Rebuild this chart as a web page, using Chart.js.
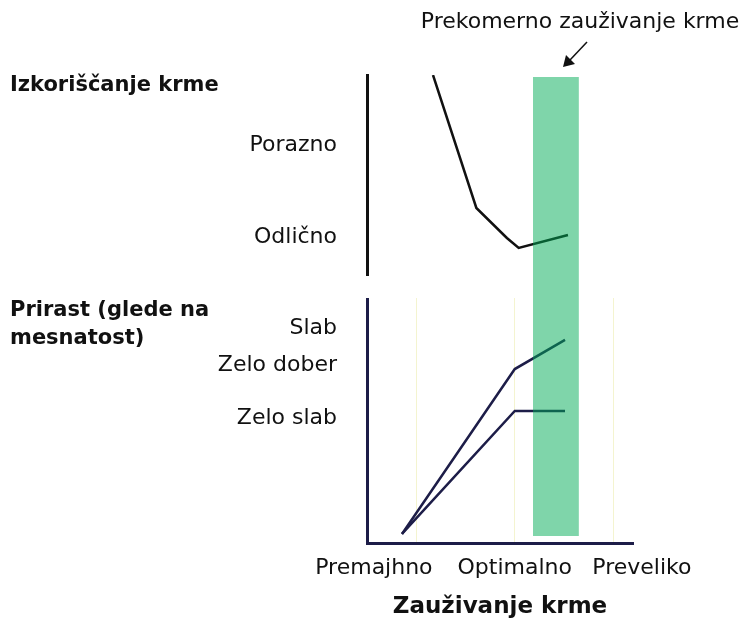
<!DOCTYPE html>
<html>
<head>
<meta charset="utf-8">
<script src="https://cdn.jsdelivr.net/npm/chart.js@4/dist/chart.umd.min.js"></script>
<style>
  html, body { margin: 0; padding: 0; background: #fff; }
  #wrap { position: relative; width: 751px; height: 627px; }
  canvas { position: absolute; left: 0; }
  #topChart { top: 0; }
  #bottomChart { top: 298px; }
</style>
</head>
<body>
<div id="wrap">
  <canvas id="topChart" width="751" height="298"></canvas>
  <canvas id="bottomChart" width="751" height="329"></canvas>
</div>
<script>
// feed intake axis
const intakeLabels = ['Premajhno', 'Optimalno', 'Preveliko'];
const intakeLabelPos = [0.57, 2.0, 3.29];
const intakeGrid = [1, 2, 3];

// Izkoriščanje krme (upper panel)
const utilTickLabels = ['Porazno', 'Odlično'];
const utilTickPos = [6.5, 1.9];
const utilX = [1.17, 1.61, 1.92, 2.04, 2.54];
const utilY = [10, 3.35, 1.85, 1.35, 2.0];

// Prirast (lower panel)
const gainTickLabels = ['Slab', 'Zelo dober', 'Zelo slab'];
const gainTickPos = [8.78, 7.27, 5.10];
const gainX = [0.855, 2.0, 2.51];
const gainUpperY = [0.37, 7.1, 8.29];
const gainLowerY = [0.37, 5.39, 5.39];

// prekomerno zauživanje krme (green band, x range)
const overIntake = [2.185, 2.65];

const FONT = "'DejaVu Sans', sans-serif";
Chart.defaults.font.family = FONT;
Chart.defaults.color = '#111';

const toPoints = (xs, ys) => xs.map((x, i) => ({ x: x, y: ys[i] }));

function bandPlugin(topFn, bottomFn) {
    return {
        id: 'band',
        afterDatasetsDraw(chart) {
            const x = chart.scales.x;
            const ctx = chart.ctx;
            const x0 = x.getPixelForValue(overIntake[0]);
            const x1 = x.getPixelForValue(overIntake[1]);
            const t = topFn(chart), b = bottomFn(chart);
            ctx.save();
            ctx.fillStyle = 'rgba(0, 172, 86, 0.5)';
            ctx.fillRect(x0, t, x1 - x0, b - t);
            ctx.restore();
        }
    };
}

const topTexts = {
    id: 'topTexts',
    afterDraw(chart) {
        const ctx = chart.ctx;
        ctx.save();
        ctx.fillStyle = '#111';
        ctx.textBaseline = 'middle';
        ctx.font = 'bold 21px ' + FONT;
        ctx.textAlign = 'left';
        ctx.fillText('Izkoriščanje krme', 10, 86);
        ctx.font = '22px ' + FONT;
        ctx.textAlign = 'center';
        ctx.fillText('Prekomerno zauživanje krme', 580, 22);
        // arrow
        ctx.strokeStyle = '#111';
        ctx.lineWidth = 1.5;
        ctx.beginPath();
        ctx.moveTo(587, 42);
        ctx.lineTo(570, 60);
        ctx.stroke();
        ctx.beginPath();
        ctx.moveTo(563, 67);
        ctx.lineTo(566, 55);
        ctx.lineTo(575, 64);
        ctx.closePath();
        ctx.fill();
        ctx.restore();
    }
};

const bottomTexts = {
    id: 'bottomTexts',
    afterDraw(chart) {
        const ctx = chart.ctx;
        ctx.save();
        ctx.fillStyle = '#111';
        ctx.textBaseline = 'middle';
        ctx.font = 'bold 21px ' + FONT;
        ctx.fillText('Prirast (glede na', 10, 13);
        ctx.fillText('mesnatost)', 10, 41);
        ctx.restore();
    }
};

// keep the y axis at a fixed width and stop it padding the plot area
const fixY = s => {
    s.width = 367;
    s.paddingTop = 0;
    s.paddingBottom = 0;
};

new Chart(document.getElementById('topChart'), {
    type: 'line',
    data: {
        datasets: [{
            data: toPoints(utilX, utilY),
            borderColor: '#111',
            borderWidth: 2.5,
            pointRadius: 0,
            tension: 0
        }]
    },
    options: {
        responsive: false,
        animation: false,
        layout: { padding: { top: 75, right: 118, bottom: 23, left: 0 } },
        plugins: { legend: { display: false }, tooltip: { enabled: false } },
        scales: {
            x: { type: 'linear', min: 0.5, max: 3.2, display: false },
            y: {
                min: 0, max: 10,
                grid: { display: false },
                border: { color: '#111', width: 3 },
                afterBuildTicks: s => { s.ticks = utilTickPos.map(v => ({ value: v })); },
                afterFit: fixY,
                ticks: {
                    padding: 22,
                    font: { size: 22 },
                    color: '#111',
                    callback: v => utilTickLabels[utilTickPos.indexOf(v)]
                }
            }
        }
    },
    plugins: [bandPlugin(c => c.chartArea.top + 2, c => c.height), topTexts]
});

const navy = '#1d1d48';

new Chart(document.getElementById('bottomChart'), {
    type: 'line',
    data: {
        datasets: [{
            data: toPoints(gainX, gainUpperY),
            borderColor: navy,
            borderWidth: 2.5,
            pointRadius: 0,
            tension: 0
        }, {
            data: toPoints(gainX, gainLowerY),
            borderColor: navy,
            borderWidth: 2.5,
            pointRadius: 0,
            tension: 0
        }]
    },
    options: {
        responsive: false,
        animation: false,
        layout: { padding: { top: 0, right: 118, bottom: 0, left: 0 } },
        plugins: { legend: { display: false }, tooltip: { enabled: false } },
        scales: {
            x: {
                type: 'linear', min: 0.5, max: 3.2,
                border: { color: navy, width: 3 },
                grid: {
                    drawTicks: false,
                    color: c => intakeGrid.includes(c.tick.value) ? '#f4f4d0' : 'rgba(0,0,0,0)'
                },
                afterBuildTicks: s => {
                    s.ticks = [0.57, 1, 2, 3, 3.29].map(v => ({ value: v }));
                },
                afterFit: s => { s.height = 84; },
                ticks: {
                    padding: 12,
                    autoSkip: false,
                    maxRotation: 0,
                    font: { size: 22 },
                    color: '#111',
                    callback: v => {
                        const i = intakeLabelPos.indexOf(v);
                        return i >= 0 ? intakeLabels[i] : '';
                    }
                },
                title: {
                    display: true,
                    text: 'Zauživanje krme',
                    color: '#111',
                    font: { size: 23, weight: 'bold' },
                    padding: { top: 4, bottom: 6 }
                }
            },
            y: {
                min: 0, max: 10,
                grid: { display: false },
                border: { color: navy, width: 3 },
                afterBuildTicks: s => { s.ticks = gainTickPos.map(v => ({ value: v })); },
                afterFit: fixY,
                ticks: {
                    padding: 22,
                    font: { size: 22 },
                    color: '#111',
                    callback: v => gainTickLabels[gainTickPos.indexOf(v)]
                }
            }
        }
    },
    plugins: [bandPlugin(() => 0, c => c.chartArea.bottom - 7), bottomTexts]
});
</script>
</body>
</html>
